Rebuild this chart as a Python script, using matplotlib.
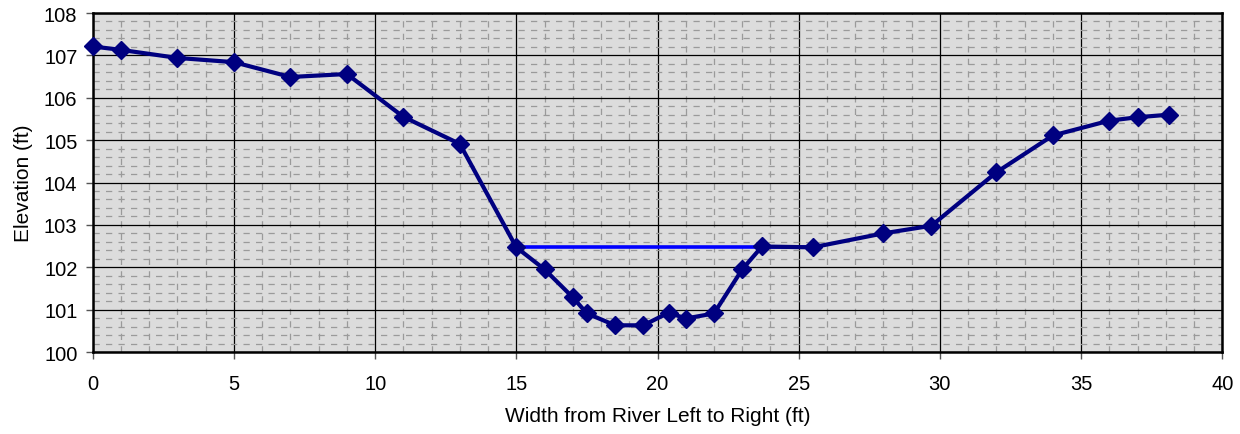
import matplotlib
matplotlib.use("Agg")
import matplotlib.pyplot as plt
from matplotlib.ticker import MultipleLocator

# Cross-section survey data
station_ft = [0, 1, 3, 5, 7, 9, 11, 13, 15, 16, 17, 17.5, 18.5, 19.5, 20.4, 21, 22, 23,
              23.7, 25.5, 28, 29.7, 32, 34, 36, 37, 38.1]
elevation_ft = [107.21, 107.13, 106.94, 106.84, 106.49, 106.56, 105.55, 104.91, 102.47,
                101.95, 101.29, 100.91, 100.63, 100.63, 100.93, 100.79, 100.91, 101.95,
                102.49, 102.47, 102.80, 102.98, 104.24, 105.11, 105.46, 105.54, 105.60]

# Water surface
water_x = [15, 25.5]
water_y = [102.48, 102.48]

x_ticks = [0, 5, 10, 15, 20, 25, 30, 35, 40]
y_ticks = [100, 101, 102, 103, 104, 105, 106, 107, 108]

plt.rcParams['font.family'] = ['Liberation Sans', 'DejaVu Sans']

fig = plt.figure(figsize=(12.4, 4.35), dpi=100)
ax = fig.add_axes([0.0748, 0.1885, 0.9857 - 0.0748, 0.9678 - 0.1885])
ax.set_facecolor('#DCDCDC')

ax.set_xlim(0, 40)
ax.set_ylim(100, 108)
ax.set_xticks(x_ticks)
ax.set_yticks(y_ticks)
ax.xaxis.set_minor_locator(MultipleLocator(1))
ax.yaxis.set_minor_locator(MultipleLocator(0.2))

ax.grid(which='minor', color='#9A9A9A', linestyle=(0, (5, 5)), linewidth=0.9, zorder=0)
ax.grid(which='major', color='black', linestyle='-', linewidth=0.9, zorder=0)
ax.set_axisbelow(True)

ax.plot(water_x, water_y, color='#0000FF', linewidth=2.6, zorder=2, solid_capstyle='butt')
ax.plot(station_ft, elevation_ft, color='#000080', linewidth=3, marker='D',
        markersize=9.5, markerfacecolor='#000080', markeredgecolor='#000080',
        zorder=3, clip_on=False)

for s in ax.spines.values():
    s.set_color('black')
    s.set_linewidth(1.8)

ax.tick_params(which='major', direction='out', length=5, width=1, color='#555555',
               labelsize=14.5)
ax.tick_params(axis='x', which='major', pad=11)
ax.tick_params(axis='y', which='major', pad=6)
ax.tick_params(which='minor', length=0)

ax.set_xlabel('Width from River Left to Right (ft)', fontsize=15, labelpad=9)
ax.set_ylabel('Elevation (ft)', fontsize=15, labelpad=8)

fig.savefig('out.png', dpi=100)
